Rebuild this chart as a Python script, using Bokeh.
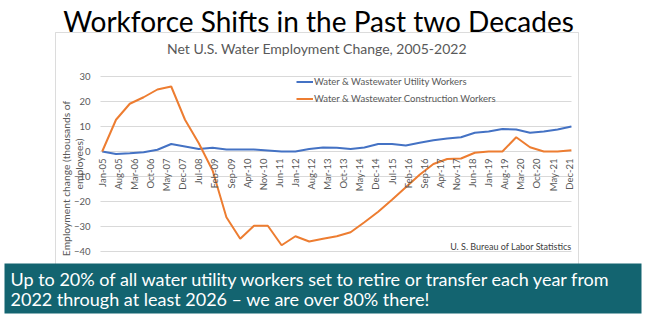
import math
from bokeh.plotting import figure
from bokeh.models import (Range1d, FixedTicker, Label, BoxAnnotation, Legend, LegendItem)
from bokeh.embed import file_html
from bokeh.resources import INLINE

# ---- data (semi-annual points, months since Jan-2005) ----
months = [0, 6, 12, 18, 24, 30, 36, 42, 48, 54, 60, 66, 72, 78, 84, 90, 96, 102, 108,
          114, 120, 126, 132, 138, 144, 150, 156, 162, 168, 174, 180, 186, 192, 198, 204]
utility = [0, -1, -0.7, -0.3, 0.7, 3, 2, 1, 1.5, 0.8, 0.8, 0.8, 0.4, 0, 0, 1, 1.6, 1.5, 1,
           1.6, 3, 3, 2.4, 3.5, 4.5, 5.2, 5.7, 7.5, 8, 9, 8.8, 7.5, 8, 8.8, 10]
construction = [0, 12.7, 19.1, 21.7, 24.8, 26, 12.7, 3.3, -7.6, -26.3, -34.9, -29.7, -29.7,
                -37.5, -33.9, -36, -34.9, -33.9, -32.3, -28.3, -24.1, -19.3, -14.3, -9.3,
                -5, -3, -2.8, -0.5, 0, 0, 5.7, 1.7, 0, 0, 0.5]
tick_months = list(range(0, 204, 7))
tick_labels = ["Jan-05", "Aug-05", "Mar-06", "Oct-06", "May-07", "Dec-07", "Jul-08", "Feb-09",
               "Sep-09", "Apr-10", "Nov-10", "Jun-11", "Jan-12", "Aug-12", "Mar-13", "Oct-13",
               "May-14", "Dec-14", "Jul-15", "Feb-16", "Sep-16", "Apr-17", "Nov-17", "Jun-18",
               "Jan-19", "Aug-19", "Mar-20", "Oct-20", "May-21", "Dec-21"]
y_ticks = [30, 20, 10, 0, -10, -20, -30, -40]
series_names = ["Water & Wastewater Utility Workers", "Water & Wastewater Construction Workers"]
title_text = "Workforce Shifts in the Past two Decades"
subtitle_text = "Net U.S. Water Employment Change, 2005-2022"
source_text = "U. S. Bureau of Labor Statistics"
y_title_lines = ["Employment change (thousands of", "employees)"]
banner_lines = ["Up to 20% of all water utility workers set to retire or transfer each year from",
                "2022 through at least 2026 \u2013 we are over 80% there!"]

FONT = "Lato"
GRAY = "#595959"
BLUE = "#4472C4"
ORANGE = "#ED7D31"
TEAL = "#136470"
BOXLINE = "#8C8C8C"

W, H = 646, 327
# plot area: months -0.74 .. 204.04 ; canvas maps 2.3 px / month, 2.5 px / unit
X0, X1 = -0.74, 204.04
p = figure(width=W, height=H, output_backend="svg", toolbar_location=None,
           x_range=Range1d(-44.22, 236.65), y_range=Range1d(-70.4, 60.4),
           min_border=0, min_border_left=0, min_border_right=0, min_border_top=0,
           min_border_bottom=0, title=None)
p.outline_line_color = None
p.background_fill_color = "white"
p.border_fill_color = "white"
p.xgrid.visible = False

# chart box (behind everything else)
p.add_layout(BoxAnnotation(left=55, right=578, top=H - 32, bottom=H - 275,
                           left_units="screen", right_units="screen",
                           top_units="screen", bottom_units="screen",
                           fill_alpha=0, line_color=BOXLINE, line_width=1, level="underlay"))

xax = p.xaxis[0]
xax.fixed_location = 0
xax.bounds = (X0, X1)
xax.ticker = FixedTicker(ticks=tick_months)
xax.major_label_overrides = {m: t for m, t in zip(tick_months, tick_labels)}
xax.major_label_orientation = math.pi / 2
xax.axis_line_color = None
xax.major_tick_line_color = None
xax.minor_tick_line_color = None
xax.major_tick_in = 0
xax.major_tick_out = 0
xax.major_label_standoff = 7
xax.major_label_text_font = FONT
xax.major_label_text_font_size = "9.5px"
xax.major_label_text_color = GRAY

yax = p.yaxis[0]
yax.fixed_location = X0
yax.bounds = (-40, 30)
yax.ticker = FixedTicker(ticks=y_ticks)
yax.axis_line_color = None
yax.major_tick_line_color = None
yax.minor_tick_line_color = None
yax.major_tick_in = 0
yax.major_tick_out = 0
yax.major_label_standoff = 10
yax.major_label_text_font = FONT
yax.major_label_text_font_size = "9.5px"
yax.major_label_text_color = GRAY

p.ygrid.ticker = FixedTicker(ticks=y_ticks)
p.ygrid.cross_bounds = (X0, X1)
p.ygrid.grid_line_color = "#D9D9D9"
p.ygrid.grid_line_width = 1

r1 = p.line(months, utility, line_color=BLUE, line_width=2)
r2 = p.line(months, construction, line_color=ORANGE, line_width=2)

legend = Legend(items=[LegendItem(label=series_names[0], renderers=[r1]),
                       LegendItem(label=series_names[1], renderers=[r2])],
                location=(296, H - 104.5), glyph_width=17, glyph_height=13, label_height=13,
                label_standoff=1, spacing=4, padding=0, margin=0,
                label_text_font=FONT, label_text_font_size="9.5px", label_text_color=GRAY,
                background_fill_alpha=0, border_line_color=None)
p.add_layout(legend)

# y-axis title (two rotated lines)
p.add_layout(Label(x=65, y=H - 178, x_units="screen", y_units="screen", text=y_title_lines[0],
                   angle=math.pi / 2, text_align="center", text_baseline="middle",
                   text_font=FONT, text_font_size="10.3px", text_color=GRAY))
p.add_layout(Label(x=78, y=H - 163.5, x_units="screen", y_units="screen", text=y_title_lines[1],
                   angle=math.pi / 2, text_align="center", text_baseline="middle",
                   text_font=FONT, text_font_size="10.3px", text_color=GRAY))

p.add_layout(Label(x=571, y=H - 246, x_units="screen", y_units="screen", text=source_text,
                   text_align="right", text_baseline="alphabetic", text_font=FONT,
                   text_font_size="9px", text_color="#404040"))
p.add_layout(Label(x=318, y=H - 20.7, x_units="screen", y_units="screen", text=title_text,
                   text_align="center", text_baseline="alphabetic", text_font=FONT,
                   text_font_size="28px", text_color="black"))
p.add_layout(Label(x=316.5, y=H - 47.5, x_units="screen", y_units="screen", text=subtitle_text,
                   text_align="center", text_baseline="alphabetic", text_font=FONT,
                   text_font_size="14px", text_color=GRAY))

# banner
p.add_layout(BoxAnnotation(left=4, right=641, top=H - 263, bottom=H - 313,
                           left_units="screen", right_units="screen",
                           top_units="screen", bottom_units="screen",
                           fill_color=TEAL, fill_alpha=1, line_color=None))
p.add_layout(Label(x=10, y=H - 278, x_units="screen", y_units="screen", text=banner_lines[0],
                   text_align="left", text_baseline="alphabetic", text_font=FONT,
                   text_font_size="18px", text_color="white"))
p.add_layout(Label(x=10, y=H - 298.3, x_units="screen", y_units="screen", text=banner_lines[1],
                   text_align="left", text_baseline="alphabetic", text_font=FONT,
                   text_font_size="18px", text_color="white"))

open("out.html", "w").write(file_html(p, INLINE))
